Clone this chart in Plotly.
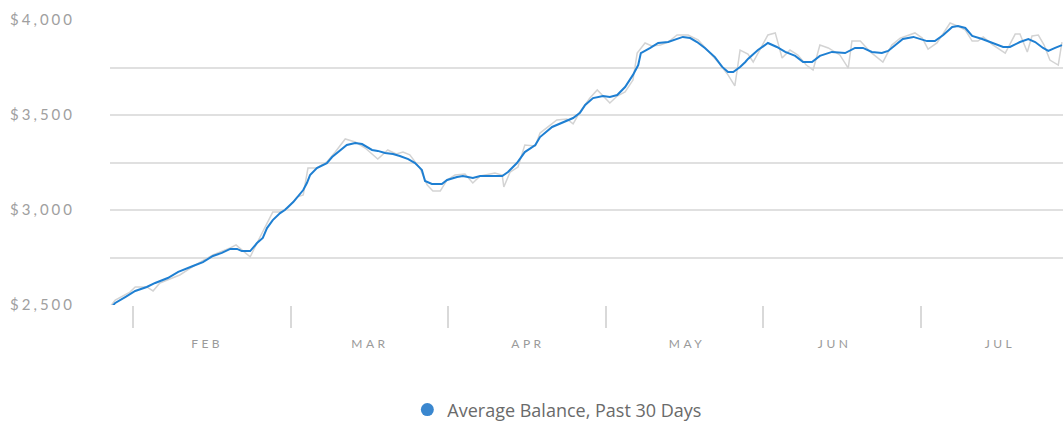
import plotly.graph_objects as go

# ---- data (x = day index from first observation; months drawn as 30-day spans) ----
avg_days = [0.0, 1.0, 2.9, 4.8, 7.0, 8.6, 11.0, 13.0, 15.8, 17.7, 19.6, 21.3, 22.9, 24.2, 25.1, 26.7,
            28.0, 29.1, 29.9, 30.5, 31.0, 32.4, 33.3, 34.9, 36.8, 37.5, 38.1, 39.4, 41.3, 42.3, 43.8,
            45.1, 46.7, 48.0, 49.9, 51.0, 52.4, 53.9, 55.2, 56.8, 58.1, 59.4, 60.0, 61.3, 63.2, 64.2,
            66.1, 67.2, 69.1, 70.5, 74.7, 75.8, 77.5, 79.0, 81.0, 81.9, 84.2, 86.3, 88.2, 89.5, 90.5,
            92.0, 93.9, 95.2, 96.6, 98.1, 99.6, 100.6, 101.1, 102.9, 104.4, 106.3, 108.0, 109.1, 110.5,
            111.8, 113.3, 115.2, 116.6, 117.7, 118.7, 120.0, 121.0, 121.5, 123.4, 125.3, 127.0, 128.6,
            130.5, 132.0, 133.7, 135.2, 137.5, 140.0, 141.9, 143.4, 145.1, 147.0, 148.2, 149.5, 151.0,
            153.0, 155.6, 157.1, 158.7, 160.4, 161.5, 162.9, 164.2, 166.1, 168.0, 170.1, 171.4, 173.3,
            174.9, 176.2, 177.7, 178.7, 180.0, 181.3]
avg_balance = [2480, 2511, 2542, 2574, 2595, 2616, 2642, 2674, 2705, 2726, 2758, 2774, 2795, 2795, 2784, 2784,
               2826, 2853, 2905, 2926, 2947, 2984, 3000, 3042, 3105, 3142, 3184, 3221, 3247, 3279, 3311,
               3342, 3353, 3347, 3316, 3311, 3300, 3295, 3284, 3268, 3247, 3211, 3153, 3137, 3137, 3158,
               3174, 3179, 3168, 3179, 3179, 3200, 3247, 3305, 3342, 3384, 3437, 3463, 3484, 3511, 3553,
               3589, 3600, 3595, 3605, 3647, 3711, 3763, 3826, 3853, 3879, 3884, 3900, 3911, 3905,
               3884, 3853, 3805, 3753, 3726, 3726, 3753, 3779, 3795, 3842, 3879, 3858, 3832,
               3811, 3779, 3779, 3811, 3832, 3826, 3853, 3853, 3832, 3826, 3837, 3868, 3900,
               3911, 3889, 3889, 3921, 3963, 3968, 3958, 3916, 3900, 3879, 3858, 3858, 3884,
               3900, 3884, 3853, 3837, 3853, 3868]

daily_days = [0.0, 1.0, 3.8, 4.8, 7.0, 8.2, 9.5, 13.3, 16.2, 19.6, 22.9, 24.0, 25.1, 26.7, 27.8, 29.1,
              29.7, 31.0, 32.4, 33.9, 35.6, 36.8, 37.7, 39.4, 41.3, 42.9, 44.8, 46.7, 48.6, 51.0, 52.9,
              54.5, 55.8, 57.1, 59.0, 60.4, 61.5, 62.9, 64.2, 65.7, 67.6, 69.1, 70.5, 73.3, 74.7, 75.0,
              76.2, 77.7, 79.0, 81.0, 81.9, 85.1, 87.0, 88.2, 89.5, 91.4, 92.8, 93.9, 95.2, 96.6, 98.1,
              99.6, 100.4, 101.9, 103.2, 104.8, 106.3, 108.0, 110.1, 112.0, 113.9, 115.8, 117.7, 119.0,
              120.0, 121.5, 122.5, 124.2, 125.3, 126.7, 128.0, 129.5, 131.0, 132.6, 133.9, 135.2, 136.8,
              139.0, 140.6, 141.3, 142.9, 144.8, 147.2, 148.9, 150.5, 153.3, 154.7, 155.8, 157.5, 160.0,
              161.5, 162.9, 164.2, 165.3, 166.3, 168.2, 170.5, 172.4, 173.3, 174.7, 175.6, 176.8, 177.9,
              179.0, 180.6, 181.3]
daily_balance = [2490, 2526, 2568, 2595, 2595, 2574, 2616, 2658, 2710, 2763, 2800, 2816, 2790, 2753, 2816, 2884,
                 2921, 2989, 2989, 3011, 3068, 3079, 3221, 3221, 3253, 3305, 3374, 3358, 3326, 3268, 3316,
                 3295, 3305, 3290, 3221, 3132, 3100, 3100, 3158, 3184, 3189, 3142, 3179, 3195, 3184, 3121,
                 3200, 3226, 3342, 3337, 3405, 3474, 3479, 3453, 3516, 3589, 3632, 3600, 3563, 3600, 3621,
                 3684, 3826, 3879, 3863, 3868, 3884, 3921, 3921, 3895, 3837, 3779, 3711, 3653,
                 3842, 3821, 3779, 3868, 3921, 3932, 3800, 3842, 3816, 3763, 3737, 3868, 3853,
                 3816, 3747, 3889, 3889, 3832, 3779, 3868, 3905, 3932, 3905, 3847, 3879, 3984,
                 3968, 3947, 3889, 3889, 3911, 3868, 3826, 3926, 3926, 3832, 3916, 3921, 3868,
                 3789, 3763, 3884]

month_labels = ["FEB", "MAR", "APR", "MAY", "JUN", "JUL"]
month_label_pos = [18.5, 49.5, 79.6, 109.9, 138.0, 169.5]
month_bounds = [4.4, 34.4, 64.4, 94.4, 124.4, 154.4]

y_ticks = [2500, 2750, 3000, 3250, 3500, 3750, 4000]
y_ticktext = ["$2,500", "", "$3,000", "", "$3,500", "", "$4,000"]

series_name = "Average Balance, Past 30 Days"

fig = go.Figure()
fig.add_trace(go.Scatter(x=daily_days, y=daily_balance, mode="lines",
                         line=dict(color="#d3d3d3", width=1.5), showlegend=False, hoverinfo="skip"))
fig.add_trace(go.Scatter(x=avg_days, y=avg_balance, mode="lines",
                         line=dict(color="#1e7fd2", width=2), showlegend=False, name=series_name))
fig.add_trace(go.Scatter(x=[None], y=[None], mode="markers", name=series_name,
                         marker=dict(color="#3a87cf", size=13)))

fig.update_layout(
    width=1063, height=423,
    margin=dict(l=110, r=0, t=20, b=118, autoexpand=False),
    plot_bgcolor="white", paper_bgcolor="white",
    xaxis=dict(range=[0, 181.5], showgrid=False, zeroline=False, showline=False,
               tickmode="array", tickvals=month_label_pos, ticktext=month_labels,
               ticks="outside", ticklen=28, tickcolor="rgba(0,0,0,0)",
               tickfont=dict(family="Lato", size=12, color="#9a9a9a"),
               minor=dict(tickmode="array", tickvals=month_bounds, ticks="outside",
                          ticklen=22, tickcolor="#d9d9d9", tickwidth=1.5, showgrid=False)),
    yaxis=dict(range=[2500, 4000], tickmode="array", tickvals=y_ticks, ticktext=y_ticktext,
               showgrid=True, gridcolor="#e0e0e0", gridwidth=1.5, zeroline=False, showline=False,
               ticks="", ticklabelstandoff=34,
               tickfont=dict(family="Lato", size=15, color="#a0a0a0")),
    legend=dict(orientation="h", x=0.312, xanchor="left", y=-0.368, yanchor="middle",
                font=dict(family="Open Sans", size=18, color="#6a6a6a")),
    showlegend=True,
)

css = ("var s=document.createElement('style');"
       "s.innerHTML='body{margin:0}.ytick text{letter-spacing:3px}.xtick text{letter-spacing:3.5px}';"
       "document.head.appendChild(s);")
fig.write_html("out.html", post_script=css, config={"displayModeBar": False})
